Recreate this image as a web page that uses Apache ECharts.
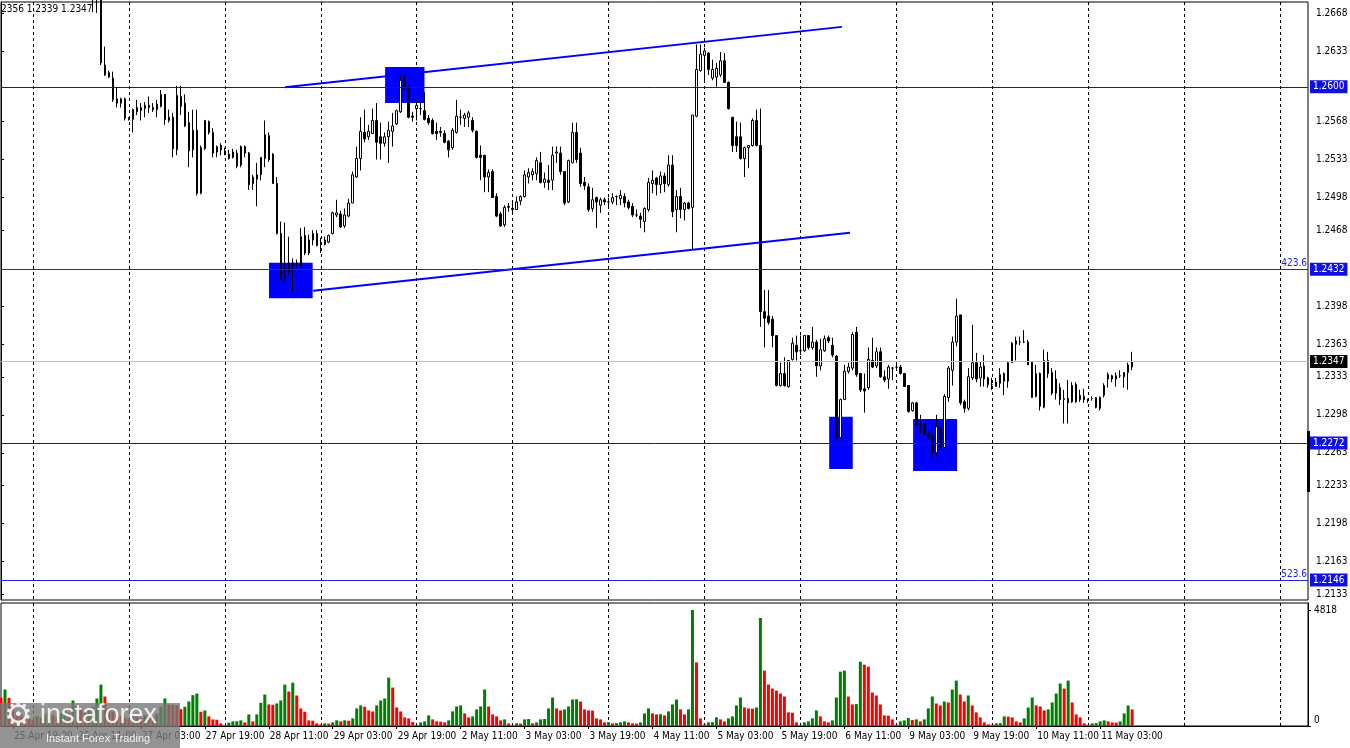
<!DOCTYPE html>
<html><head><meta charset="utf-8">
<script src="https://cdn.jsdelivr.net/npm/echarts@6/dist/echarts.min.js"></script>
<style>html,body{margin:0;padding:0;background:#fff;overflow:hidden}#c{width:1350px;height:748px}</style>
</head><body><div id="c"></div>
<script>
// ---------------- DATA ----------------
const barCount = 328;          // hourly slots on the time axis (incl. empty future area)
const firstBar = 23;           // slot of the first candle in the arrays below
const opens = [1.2695,1.2690,1.2706,1.2620,1.2613,1.2608,1.2589,1.2585,1.2589,1.2571,1.2570,1.2577,1.2578,1.2580,1.2583,1.2581,1.2579,1.2582,1.2593,1.2569,1.2572,1.2542,1.2591,1.2564,1.2567,1.2542,1.2560,1.2502,1.2543,1.2568,1.2558,1.2540,1.2546,1.2541,1.2538,1.2535,1.2539,1.2528,1.2545,1.2539,1.2517,1.2515,1.2519,1.2534,1.2555,1.2538,1.2511,1.2465,1.2424,1.2429,1.2436,1.2438,1.2435,1.2463,1.2447,1.2459,1.2465,1.2456,1.2455,1.2457,1.2465,1.2482,1.2483,1.2472,1.2481,1.2493,1.2517,1.2534,1.2558,1.2554,1.2557,1.2569,1.2554,1.2548,1.2554,1.2559,1.2566,1.2577,1.2606,1.2599,1.2573,1.2580,1.2580,1.2578,1.2571,1.2569,1.2559,1.2559,1.2557,1.2550,1.2544,1.2558,1.2572,1.2571,1.2572,1.2569,1.2559,1.2537,1.2537,1.2517,1.2522,1.2499,1.2483,1.2473,1.2489,1.2488,1.2487,1.2495,1.2499,1.2517,1.2519,1.2520,1.2530,1.2512,1.2514,1.2514,1.2539,1.2539,1.2522,1.2494,1.2530,1.2558,1.2539,1.2512,1.2508,1.2488,1.2498,1.2491,1.2496,1.2494,1.2494,1.2499,1.2497,1.2499,1.2494,1.2490,1.2482,1.2481,1.2476,1.2487,1.2511,1.2516,1.2510,1.2518,1.2510,1.2528,1.2487,1.2499,1.2487,1.2493,1.2489,1.2573,1.2615,1.2629,1.2631,1.2608,1.2609,1.2611,1.2624,1.2604,1.2572,1.2554,1.2554,1.2534,1.2544,1.2546,1.2569,1.2546,1.2393,1.2389,1.2386,1.2371,1.2325,1.2336,1.2324,1.2349,1.2362,1.2357,1.2357,1.2371,1.2360,1.2365,1.2343,1.2357,1.2369,1.2362,1.2352,1.2277,1.2312,1.2338,1.2341,1.2374,1.2336,1.2322,1.2323,1.2348,1.2343,1.2356,1.2333,1.2331,1.2341,1.2342,1.2342,1.2336,1.2325,1.2302,1.2309,1.2290,1.2290,1.2280,1.2278,1.2263,1.2287,1.2268,1.2314,1.2339,1.2365,1.2390,1.2310,1.2304,1.2332,1.2346,1.2332,1.2343,1.2332,1.2326,1.2324,1.2327,1.2336,1.2329,1.2346,1.2363,1.2365,1.2365,1.2365,1.2347,1.2315,1.2336,1.2305,1.2348,1.2337,1.2318,1.2323,1.2312,1.2313,1.2310,1.2326,1.2312,1.2315,1.2312,1.2313,1.2314,1.2304,1.2316,1.2331,1.2331,1.2331,1.2334,1.2333,1.2337,1.2342];
const highs = [1.2702,1.2712,1.2710,1.2637,1.2615,1.2614,1.2600,1.2590,1.2590,1.2572,1.2580,1.2588,1.2585,1.2586,1.2591,1.2585,1.2588,1.2597,1.2593,1.2579,1.2576,1.2601,1.2601,1.2593,1.2577,1.2579,1.2579,1.2546,1.2569,1.2569,1.2562,1.2546,1.2548,1.2544,1.2542,1.2543,1.2542,1.2546,1.2546,1.2540,1.2519,1.2530,1.2535,1.2569,1.2558,1.2539,1.2517,1.2476,1.2475,1.2462,1.2442,1.2441,1.2470,1.2471,1.2464,1.2468,1.2468,1.2461,1.2462,1.2464,1.2485,1.2496,1.2486,1.2488,1.2497,1.2522,1.2545,1.2572,1.2579,1.2565,1.2580,1.2585,1.2567,1.2558,1.2568,1.2576,1.2579,1.2611,1.2611,1.2601,1.2577,1.2588,1.2585,1.2595,1.2574,1.2571,1.2567,1.2563,1.2560,1.2551,1.2562,1.2588,1.2579,1.2576,1.2578,1.2572,1.2560,1.2546,1.2537,1.2524,1.2524,1.2502,1.2485,1.2491,1.2493,1.2493,1.2499,1.2500,1.2523,1.2525,1.2525,1.2535,1.2540,1.2521,1.2528,1.2545,1.2545,1.2545,1.2522,1.2533,1.2567,1.2567,1.2544,1.2517,1.2511,1.2507,1.2499,1.2498,1.2498,1.2498,1.2502,1.2500,1.2505,1.2502,1.2496,1.2493,1.2487,1.2484,1.2489,1.2516,1.2523,1.2517,1.2522,1.2521,1.2537,1.2537,1.2505,1.2507,1.2494,1.2494,1.2574,1.2639,1.2639,1.2636,1.2632,1.2625,1.2622,1.2632,1.2631,1.2605,1.2572,1.2568,1.2567,1.2545,1.2546,1.2571,1.2579,1.2580,1.2413,1.2413,1.2389,1.2371,1.2346,1.2351,1.2348,1.2369,1.2371,1.2371,1.2371,1.2371,1.2379,1.2367,1.2368,1.2371,1.2371,1.2369,1.2353,1.2313,1.2344,1.2346,1.2374,1.2379,1.2336,1.2336,1.2360,1.2369,1.2360,1.2360,1.2339,1.2344,1.2342,1.2344,1.2344,1.2336,1.2325,1.2310,1.2310,1.2298,1.2291,1.2282,1.2281,1.2298,1.2287,1.2317,1.2343,1.2370,1.2405,1.2390,1.2312,1.2341,1.2381,1.2355,1.2347,1.2353,1.2333,1.2332,1.2332,1.2341,1.2337,1.2347,1.2365,1.2370,1.2370,1.2376,1.2367,1.2347,1.2344,1.2337,1.2358,1.2356,1.2341,1.2339,1.2327,1.2321,1.2330,1.2328,1.2328,1.2321,1.2322,1.2313,1.2315,1.2314,1.2315,1.2327,1.2337,1.2335,1.2337,1.2339,1.2337,1.2346,1.2356];
const lows = [1.2669,1.2668,1.2620,1.2610,1.2608,1.2586,1.2581,1.2581,1.2569,1.2569,1.2558,1.2574,1.2569,1.2572,1.2576,1.2577,1.2572,1.2581,1.2565,1.2567,1.2535,1.2537,1.2574,1.2563,1.2526,1.2535,1.2500,1.2501,1.2542,1.2556,1.2535,1.2535,1.2537,1.2537,1.2533,1.2534,1.2525,1.2526,1.2535,1.2505,1.2505,1.2490,1.2514,1.2526,1.2531,1.2511,1.2464,1.2422,1.2420,1.2427,1.2411,1.2433,1.2434,1.2445,1.2445,1.2454,1.2453,1.2447,1.2454,1.2456,1.2464,1.2480,1.2470,1.2470,1.2480,1.2493,1.2516,1.2523,1.2549,1.2551,1.2557,1.2533,1.2533,1.2545,1.2530,1.2545,1.2565,1.2576,1.2597,1.2571,1.2568,1.2569,1.2574,1.2569,1.2565,1.2556,1.2551,1.2554,1.2548,1.2535,1.2542,1.2557,1.2565,1.2563,1.2563,1.2558,1.2534,1.2514,1.2503,1.2503,1.2498,1.2480,1.2471,1.2471,1.2485,1.2484,1.2487,1.2491,1.2498,1.2511,1.2514,1.2514,1.2511,1.2507,1.2505,1.2505,1.2530,1.2519,1.2491,1.2493,1.2530,1.2530,1.2508,1.2505,1.2485,1.2485,1.2470,1.2484,1.2491,1.2488,1.2492,1.2491,1.2491,1.2489,1.2487,1.2480,1.2480,1.2470,1.2466,1.2485,1.2502,1.2500,1.2502,1.2503,1.2508,1.2480,1.2466,1.2479,1.2477,1.2487,1.2450,1.2572,1.2614,1.2606,1.2611,1.2606,1.2600,1.2609,1.2604,1.2579,1.2540,1.2540,1.2533,1.2517,1.2525,1.2545,1.2545,1.2379,1.2360,1.2381,1.2360,1.2324,1.2324,1.2324,1.2323,1.2348,1.2348,1.2353,1.2356,1.2358,1.2358,1.2333,1.2339,1.2356,1.2364,1.2351,1.2275,1.2276,1.2312,1.2336,1.2339,1.2333,1.2319,1.2300,1.2321,1.2341,1.2341,1.2332,1.2328,1.2322,1.2330,1.2340,1.2335,1.2324,1.2300,1.2301,1.2288,1.2281,1.2279,1.2275,1.2259,1.2260,1.2267,1.2267,1.2310,1.2325,1.2361,1.2307,1.2300,1.2302,1.2330,1.2328,1.2324,1.2324,1.2323,1.2321,1.2324,1.2323,1.2316,1.2323,1.2346,1.2348,1.2362,1.2364,1.2344,1.2314,1.2314,1.2302,1.2304,1.2332,1.2316,1.2312,1.2307,1.2290,1.2290,1.2309,1.2309,1.2310,1.2309,1.2309,1.2311,1.2304,1.2302,1.2314,1.2323,1.2328,1.2324,1.2332,1.2323,1.2321,1.2339];
const closes = [1.2690,1.2706,1.2622,1.2611,1.2609,1.2588,1.2585,1.2589,1.2571,1.2570,1.2579,1.2581,1.2581,1.2583,1.2581,1.2579,1.2584,1.2593,1.2570,1.2572,1.2543,1.2592,1.2582,1.2585,1.2541,1.2560,1.2502,1.2544,1.2569,1.2558,1.2539,1.2545,1.2542,1.2539,1.2534,1.2540,1.2527,1.2545,1.2539,1.2510,1.2511,1.2519,1.2535,1.2556,1.2533,1.2511,1.2465,1.2424,1.2427,1.2438,1.2438,1.2437,1.2462,1.2447,1.2459,1.2465,1.2454,1.2455,1.2459,1.2463,1.2484,1.2484,1.2471,1.2482,1.2493,1.2519,1.2534,1.2559,1.2552,1.2559,1.2569,1.2549,1.2548,1.2554,1.2560,1.2564,1.2578,1.2606,1.2599,1.2572,1.2572,1.2583,1.2580,1.2570,1.2567,1.2557,1.2557,1.2558,1.2549,1.2542,1.2560,1.2573,1.2572,1.2574,1.2576,1.2560,1.2535,1.2535,1.2517,1.2521,1.2498,1.2481,1.2472,1.2489,1.2490,1.2487,1.2494,1.2499,1.2519,1.2521,1.2522,1.2532,1.2512,1.2515,1.2512,1.2537,1.2540,1.2522,1.2493,1.2532,1.2558,1.2533,1.2511,1.2509,1.2487,1.2496,1.2494,1.2496,1.2494,1.2494,1.2498,1.2499,1.2500,1.2493,1.2489,1.2482,1.2482,1.2478,1.2488,1.2512,1.2514,1.2510,1.2518,1.2511,1.2528,1.2485,1.2499,1.2487,1.2493,1.2488,1.2574,1.2616,1.2630,1.2633,1.2616,1.2616,1.2617,1.2624,1.2604,1.2580,1.2546,1.2546,1.2534,1.2544,1.2546,1.2569,1.2546,1.2393,1.2387,1.2383,1.2371,1.2325,1.2336,1.2325,1.2348,1.2364,1.2356,1.2357,1.2371,1.2360,1.2365,1.2343,1.2358,1.2368,1.2366,1.2353,1.2277,1.2312,1.2338,1.2342,1.2372,1.2335,1.2321,1.2320,1.2349,1.2342,1.2356,1.2333,1.2330,1.2342,1.2341,1.2342,1.2336,1.2324,1.2301,1.2309,1.2289,1.2289,1.2281,1.2278,1.2263,1.2287,1.2268,1.2315,1.2341,1.2365,1.2389,1.2309,1.2304,1.2333,1.2346,1.2331,1.2342,1.2331,1.2326,1.2326,1.2328,1.2335,1.2329,1.2346,1.2364,1.2366,1.2365,1.2365,1.2344,1.2314,1.2336,1.2306,1.2348,1.2336,1.2318,1.2331,1.2312,1.2313,1.2309,1.2325,1.2310,1.2316,1.2312,1.2312,1.2313,1.2305,1.2314,1.2325,1.2335,1.2334,1.2334,1.2334,1.2337,1.2344,1.2347];
const volumes = [1170,1515,1170,895,600,450,380,300,250,420,350,500,600,450,380,520,650,560,1060,826,688,550,720,812,1143,1721,1226,730,600,500,420,350,300,420,380,330,450,400,360,500,800,1143,895,880,860,700,799,1019,1281,1349,592,647,400,275,260,110,28,138,193,200,234,151,482,193,482,964,1308,895,880,936,1060,1721,1432,1804,1267,730,592,234,220,110,69,110,100,151,234,193,234,220,317,730,854,799,647,606,854,1060,1143,2010,1597,771,606,358,317,165,28,151,193,441,275,193,180,151,234,606,812,854,523,358,399,689,812,1515,812,482,399,234,275,110,28,110,100,275,290,110,151,275,290,730,1184,730,647,689,812,1102,1110,1019,689,647,640,317,275,151,160,110,120,151,193,151,110,100,151,523,730,523,482,490,441,606,895,1102,689,482,689,4818,2644,317,69,151,160,358,275,193,317,399,854,1184,771,730,720,771,4489,2300,1721,1556,1473,1349,1226,565,550,151,28,151,193,317,647,399,193,151,234,1184,2258,2300,1226,895,910,2671,2547,2465,1391,1267,895,441,430,275,55,193,234,330,250,275,193,275,730,1226,936,854,1019,978,1515,1886,1308,1019,1267,854,565,358,151,69,55,110,120,399,390,358,193,151,317,771,1184,854,812,647,689,978,1349,1763,1556,1886,978,482,358,110,55,110,120,193,234,193,151,140,193,523,854,689];
const timeLabels = ['25 Apr 19:00','26 Apr 11:00','27 Apr 03:00','27 Apr 19:00','28 Apr 11:00','29 Apr 03:00','29 Apr 19:00','2 May 11:00','3 May 03:00','3 May 19:00','4 May 11:00','5 May 03:00','5 May 19:00','6 May 11:00','9 May 03:00','9 May 19:00','10 May 11:00','11 May 03:00'];
const labelStart = 3, labelStep = 16;   // slot of first time label, slots between labels
const dayStart = 8, dayStep = 24;       // slots of day separators
const priceTicks = [1.2668,1.2633,1.2568,1.2533,1.2498,1.2468,1.2398,1.2363,1.2333,1.2298,1.2263,1.2233,1.2198,1.2163,1.2133];
const priceMin = 1.21275, priceMax = 1.26781;
const volumeTicks = [0, 4818];
const volumeMax = 5110;
const levels = [1.2600, 1.2432, 1.2272, 1.2146];
const levelTags = ['', '423.6', '', '523.6'];
const lastPrice = 1.2347;
const headerText = '2356 1.2339 1.2347';
// channel lines: [slotStart, priceStart, slotEnd, priceEnd]
const channelUpper = [71.05, 1.25996, 210.4, 1.26552];
const channelLower = [78.1, 1.24123, 212.4, 1.24657];
// zones: [slotFrom, slotTo, priceLow, priceHigh]
const zones = [[67.05, 77.98, 1.24053, 1.24381],[96.1, 105.95, 1.25851, 1.26183],[207.2, 213.1, 1.22481, 1.22963],[228.2, 239.2, 1.22463, 1.22942]];
const axisMarker = [1.2227, 1.2283];

// ---------------- CHART ----------------
const FONT = "'DejaVu Sans Condensed','DejaVu Sans','Liberation Sans',sans-serif";
const cats = Array.from({length: barCount}, (_, i) => String(i));
const candleData = cats.map((c, i) => {
  const k = i - firstBar;
  if (k < 0 || k >= opens.length) return '-';
  return [opens[k], closes[k], lows[k], highs[k]];
});
const GREEN = '#008000', RED = '#ff0000';
const volData = cats.map((c, i) => {
  if (i >= volumes.length) return '-';
  const up = i > 0 && volumes[i] > volumes[i - 1];
  return {value: volumes[i], itemStyle: {color: up ? GREEN : RED}};
});
const isLabel = (i) => i >= labelStart && (i - labelStart) % labelStep === 0 && (i - labelStart) / labelStep < timeLabels.length;
const isDay = (i) => i >= dayStart && (i - dayStart) % dayStep === 0;

const levelColors = ['#1414a6', '#2020e8', '#1414a6', '#2020e8'];
const levelLines = levels.map((v, k) => ({
  yAxis: v,
  lineStyle: {color: levelColors[k], width: 1, type: 'solid'},
  label: {show: true, position: 'end', distance: 2, formatter: v.toFixed(4), color: '#fff',
          backgroundColor: '#1010e0', padding: [2, 3, 1, 3], fontSize: 10, fontFamily: FONT}
}));
const tagLines = levels.map((v, k) => levelTags[k] ? ({
  yAxis: v,
  lineStyle: {color: 'rgba(0,0,0,0)', width: 1, type: 'solid'},
  label: {show: true, position: 'insideEndTop', distance: 1, formatter: levelTags[k], color: '#2020e8',
          fontSize: 10, fontFamily: FONT, opacity: 1}
}) : null).filter(Boolean);

const chart = echarts.init(document.getElementById('c'), null, {renderer: 'canvas'});
const option = {
  animation: false,
  backgroundColor: '#ffffff',
  textStyle: {fontFamily: FONT},
  grid: [
    {left: 1, top: 2, width: 1307, height: 598, show: true, borderColor: '#000', borderWidth: 1, outerBoundsMode: 'none', containLabel: false},
    {left: 1, top: 603, width: 1307, height: 123, show: true, borderColor: '#000', borderWidth: 1, outerBoundsMode: 'none', containLabel: false}
  ],
  xAxis: [
    {type: 'category', gridIndex: 0, data: cats, boundaryGap: false,
     axisLine: {show: false}, axisTick: {show: false}, axisLabel: {show: false},
     splitLine: {show: true, interval: (i) => isDay(i), lineStyle: {color: '#000', type: [3, 3], width: 1}}},
    {type: 'value', gridIndex: 0, min: 0, max: barCount - 1, show: false, splitLine: {show: false}},
    {type: 'category', gridIndex: 1, data: cats, boundaryGap: false,
     axisLine: {show: true, lineStyle: {color: '#000', width: 1}},
     axisTick: {show: true, interval: (i) => isLabel(i), length: 3, lineStyle: {color: '#000'}},
     axisLabel: {show: true, interval: (i) => isLabel(i), hideOverlap: false,
                 formatter: (v, i) => timeLabels[(i - labelStart) / labelStep] || '',
                 align: 'left', margin: 5, color: '#000', fontSize: 10, fontFamily: FONT, padding: [0, 0, 0, 1]},
     splitLine: {show: true, interval: (i) => isDay(i), lineStyle: {color: '#000', type: [3, 3], width: 1}}}
  ],
  yAxis: [
    {type: 'value', gridIndex: 0, position: 'right', min: priceMin, max: priceMax, scale: true,
     axisLine: {show: true, lineStyle: {color: '#000'}},
     axisTick: {show: true, customValues: priceTicks, length: 3, lineStyle: {color: '#000'}},
     axisLabel: {show: true, customValues: priceTicks, formatter: (v) => v.toFixed(4), color: '#000',
                 fontSize: 10, fontFamily: FONT, margin: 8},
     splitLine: {show: false}},
    {type: 'value', gridIndex: 1, position: 'right', min: 0, max: volumeMax,
     axisLine: {show: true, lineStyle: {color: '#000'}},
     axisTick: {show: true, customValues: volumeTicks, length: 3, lineStyle: {color: '#000'}},
     axisLabel: {show: true, customValues: volumeTicks, color: '#000', fontSize: 10, fontFamily: FONT, margin: 6,
                 formatter: (v) => v === 0 ? '{z|0}' : String(v),
                 rich: {z: {padding: [0, 0, 12, 0], fontSize: 10, fontFamily: FONT, color: '#000'}}},
     splitLine: {show: false}}
  ],
  series: [
    {type: 'custom', name: 'zones', xAxisIndex: 1, yAxisIndex: 0, z: 1, silent: true, clip: true,
     data: zones, encode: {x: [0, 1], y: [2, 3]},
     renderItem: (params, api) => {
       const a = api.coord([api.value(0), api.value(3)]);
       const b = api.coord([api.value(1), api.value(2)]);
       return {type: 'rect', shape: {x: a[0], y: a[1], width: b[0] - a[0], height: b[1] - a[1]},
               style: {fill: '#0000ff'}};
     }},
    {type: 'line', name: 'levels', xAxisIndex: 1, yAxisIndex: 0, data: [], z: 2, silent: true,
     markLine: {silent: true, symbol: ['none', 'none'], animation: false, precision: 5,
       data: levelLines.concat([{
         yAxis: lastPrice, lineStyle: {color: '#c0c0c0', width: 1, type: 'solid'},
         label: {show: true, position: 'end', distance: 2, formatter: lastPrice.toFixed(4), color: '#fff',
                 backgroundColor: '#000', padding: [2, 3, 1, 3], fontSize: 10, fontFamily: FONT}
       }])}},
    {type: 'line', name: 'levelTags', xAxisIndex: 1, yAxisIndex: 0, data: [], z: 2, silent: true,
     markLine: {silent: true, symbol: ['none', 'none'], animation: false, precision: 5, data: tagLines}},
    {type: 'candlestick', name: 'price', xAxisIndex: 0, yAxisIndex: 0, data: candleData, z: 3,
     barWidth: 2, clip: true, silent: true,
     itemStyle: {color: '#ffffff', color0: '#000000', borderColor: '#000000', borderColor0: '#000000', borderWidth: 1}},
    {type: 'line', name: 'upper', xAxisIndex: 1, yAxisIndex: 0, z: 4, silent: true, symbol: 'none',
     data: [[channelUpper[0], channelUpper[1]], [channelUpper[2], channelUpper[3]]],
     lineStyle: {color: '#0000ff', width: 2}},
    {type: 'line', name: 'lower', xAxisIndex: 1, yAxisIndex: 0, z: 4, silent: true, symbol: 'none',
     data: [[channelLower[0], channelLower[1]], [channelLower[2], channelLower[3]]],
     lineStyle: {color: '#0000ff', width: 2}},
    {type: 'bar', name: 'volume', xAxisIndex: 2, yAxisIndex: 1, data: volData, barWidth: 3, silent: true, z: 2}
  ]
};
chart.setOption(option);

const m1 = chart.convertToPixel({yAxisIndex: 0}, axisMarker[1]);
const m0 = chart.convertToPixel({yAxisIndex: 0}, axisMarker[0]);
chart.setOption({
  graphic: {elements: [
    {type: 'rect', shape: {x: 1307, y: m1, width: 3, height: m0 - m1}, style: {fill: '#000'}, z: 50},
    {type: 'text', left: 1, top: 4, style: {text: headerText, fill: '#000', font: '10px ' + FONT}, z: 50},
    {type: 'rect', left: 0, top: 703, shape: {width: 180, height: 45}, style: {fill: 'rgba(120,120,120,0.80)'}, z: 100},
    {type: 'text', left: 4, top: 701, style: {text: '\u2699', fill: '#eeeeee', font: '32px DejaVu Sans'}, z: 101},
    {type: 'text', left: 40, top: 702, style: {text: 'instaforex', fill: '#f0f0f0', font: '27px Liberation Sans'}, z: 101},
    {type: 'text', left: 46, top: 733, style: {text: 'Instant Forex Trading', fill: '#f0f0f0', font: '11px Liberation Sans'}, z: 101}
  ]}
});
</script>
</body></html>
